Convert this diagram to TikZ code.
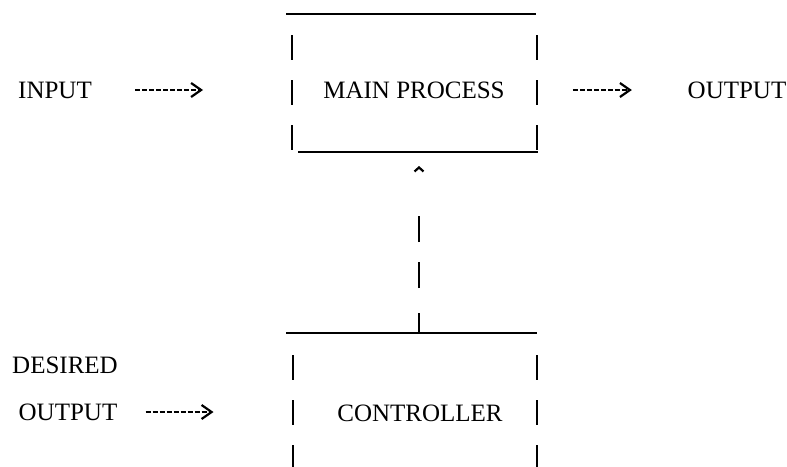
\documentclass[tikz,border=0pt]{standalone}
\usepackage{fontspec}
\setmainfont{Liberation Serif}
\usetikzlibrary{arrows.meta}

\tikzset{
  lbl/.style={inner sep=0pt, font=\fontsize{25}{30}\selectfont},
  rule/.style={line width=1.8pt},
  wall/.style={line width=1.6pt, dash pattern=on 25pt off 20pt},
  ascii/.style={line width=1.8pt, dash pattern=on 5pt off 2pt,
    -{Straight Barb[length=10pt,width=14pt,line width=2.2pt]}},
  feed/.style={line width=1.6pt, shorten >=14pt,
    dash pattern=on 20pt off 25pt on 26pt off 20pt on 26pt off 300pt,
    -{Straight Barb[length=4pt,width=9pt,line width=2.2pt]}}
}

\begin{document}
\begin{tikzpicture}[x=1pt,y=-1pt]
\useasboundingbox (0,0) rectangle (787,466);

\node[lbl] (in) at (55,90) {INPUT};
\node[lbl] (mp) at (414,90) {MAIN PROCESS};
\node[lbl] (out) at (737,90) {OUTPUT};
\node[lbl] (des) at (65,365) {DESIRED};
\node[lbl] (dout) at (68,412) {OUTPUT};
\node[lbl] (ctl) at (420,413) {CONTROLLER};

\coordinate (mpb) at (419,152);
\coordinate (ctt) at (419,333);

\draw[rule] (286,14) -- (536,14);
\draw[wall] (292,35) -- (292,152);
\draw[wall] (537,35) -- (537,152);
\draw[rule] (298,152) -- (538,152);

\draw[rule] (286,333) -- (537,333);
\draw[wall] (293,355) -- (293,470);
\draw[wall] (537,355) -- (537,470);

\draw[ascii] ([xshift=43pt]in.east) -- ([xshift=111pt]in.east);
\draw[ascii] ([xshift=68pt]mp.east) -- ([xshift=127pt]mp.east);
\draw[ascii] ([xshift=28pt]dout.east) -- ([xshift=96pt]dout.east);
\draw[feed] (ctt) -- (mpb);
\end{tikzpicture}
\end{document}
